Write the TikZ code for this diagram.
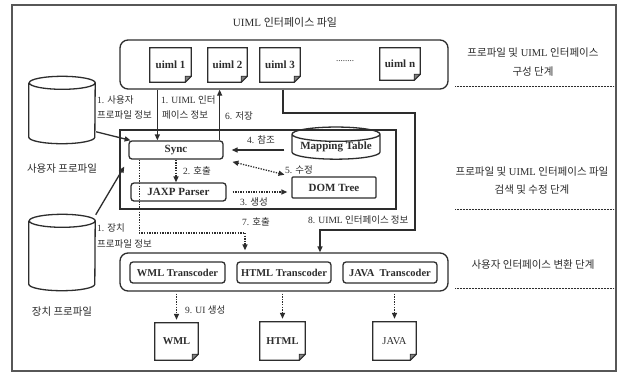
\documentclass[tikz,border=0pt]{standalone}
\usepackage{fontspec}
\setmainfont{Liberation Serif}
\newfontfamily\kr{Noto Sans CJK KR}
\usetikzlibrary{arrows.meta,shapes.geometric}
\definecolor{ink}{RGB}{45,45,45}
\newcommand\docbox[1]{%
  \draw[boxln] (#1.north west) -- (#1.north east) -- ([yshift=6pt]#1.south east) -- ([xshift=-6pt]#1.south east) -- (#1.south west) -- cycle;
  \filldraw[draw=ink, fill=ink!60, line width=0.6pt] ([yshift=6pt]#1.south east) -- ([xshift=-6pt]#1.south east) -- ([xshift=-6pt,yshift=6pt]#1.south east) -- cycle;}
\newcommand\bigcyl[1]{%
  \draw[boxln] ([yshift=-6.5pt]#1.north west) -- ([yshift=6.5pt]#1.south west)
    arc[start angle=180, end angle=360, x radius=33pt, y radius=6.5pt]
    -- ([yshift=-6.5pt]#1.north east)
    arc[start angle=0, end angle=360, x radius=33pt, y radius=6.5pt];}
\tikzset{
  boxln/.style={draw=ink, line width=1.3pt},
  arr/.style={draw=ink, line width=1.3pt, -{Triangle[length=6pt,width=5pt]}},
  darr/.style={arr, dash pattern=on 1.3pt off 1.3pt},
  dln/.style={draw=ink, line width=1.3pt, dash pattern=on 1.3pt off 1.3pt},
  sepln/.style={draw=ink, line width=0.9pt, dash pattern=on 0.7pt off 0.8pt},
  lab/.style={font=\fontsize{9.5}{10}\selectfont, text=ink, inner sep=0pt, anchor=west},
  steplab/.style={font=\fontsize{10.5}{11}\selectfont, text=ink, inner sep=0pt},
  docn/.style={minimum width=41pt, minimum height=34pt, inner sep=0pt, text=ink, font=\bfseries\fontsize{11}{12}\selectfont},
  modbox/.style={boxln, rounded corners=3pt, inner sep=0pt, text=ink, font=\bfseries\fontsize{11}{12}\selectfont},
  trans/.style={boxln, rounded corners=3pt, minimum width=95pt, minimum height=21pt, inner sep=0pt, text=ink, font=\bfseries\fontsize{10.5}{11}\selectfont},
  cyl/.style={cylinder, shape border rotate=90, draw=ink, line width=1.3pt, aspect=0.2, inner sep=0pt},
  cylarea/.style={draw=none, minimum width=66pt, inner sep=0pt},
}
\begin{document}
\begin{tikzpicture}[x=1pt,y=-1pt]
\useasboundingbox (0,0) rectangle (624,373);
\fill[white] (0,0) rectangle (624,373);
% outer frame
\draw[draw=ink!80, line width=1.2pt] (12,5) rectangle (616,371);
% title
\node[steplab, font=\fontsize{11}{12}\selectfont] (title) at (285,22) {UIML {\kr 인터페이스 파일}};
% top rounded box
\node[boxln, rounded corners=8pt, minimum width=328pt, minimum height=49pt, inner sep=0pt] (top) at (284,64.5) {};
\node[docn] (u1) at (170.5,65) {uiml 1};
\node[docn, minimum width=39pt] (u2) at (227.5,65) {uiml 2};
\node[docn, minimum width=40pt] (u3) at (280,65) {uiml 3};
\node[text=ink, inner sep=0pt, font=\fontsize{9}{10}\selectfont] (dots) at (345,61) {........};
\node[docn, minimum width=40pt, minimum height=32pt] (un) at (400,64) {uiml n};
\docbox{u1}\docbox{u2}\docbox{u3}\docbox{un}
% middle box
\node[boxln, minimum width=276pt, minimum height=79pt, inner sep=0pt] (mid) at (258,169.5) {};
\node[modbox, minimum width=94pt, minimum height=18pt] (sync) at (176,150) {Sync};
\node[modbox, minimum width=95pt, minimum height=18pt] (jaxp) at (178.5,192) {JAXP Parser};
\node[cyl, minimum width=88pt, minimum height=28pt, font=\bfseries\fontsize{11}{12}\selectfont, text=ink] (map) at (336,147) {Mapping Table};
\node[boxln, rounded corners=1pt, minimum width=84pt, minimum height=21pt, inner sep=0pt, text=ink, font=\bfseries\fontsize{11}{12}\selectfont] (dom) at (334,187.5) {DOM Tree};
% bottom box
\node[boxln, rounded corners=8pt, minimum width=328pt, minimum height=38pt, inner sep=0pt] (bot) at (284,272) {};
\node[trans] (wml) at (177.5,272.5) {WML Transcoder};
\node[trans, minimum width=94pt] (html) at (284,272.5) {HTML Transcoder};
\node[trans, minimum width=94pt] (java) at (390,272.5) {JAVA\ \ Transcoder};
% output docs
\node[docn, minimum width=43pt, minimum height=37pt, font=\bfseries\fontsize{10.5}{11}\selectfont] (wmld) at (176.5,341.5) {WML};
\node[docn, minimum width=45pt, minimum height=38pt, font=\bfseries\fontsize{10.5}{11}\selectfont] (htmld) at (282.5,341) {HTML};
\node[docn, minimum width=43pt, minimum height=38pt, font=\fontsize{10.5}{11}\selectfont] (javad) at (394.5,341) {JAVA};
\docbox{wmld}\docbox{htmld}\docbox{javad}
% cylinders
\node[cylarea, minimum height=67pt] (cu) at (62,110) {};
\node[cylarea, minimum height=76pt] (cd) at (62,252.5) {};
\bigcyl{cu}\bigcyl{cd}
\node[steplab] (cul) at (62,169) {\kr 사용자 프로파일};
\node[steplab] (cdl) at (62,312) {\kr 장치 프로파일};
% step labels
\node[steplab] (s1) at (533,53) {{\kr 프로파일 및} UIML {\kr 인터페이스}};
\node[steplab] (s1b) at (533,72) {\kr 구성 단계};
\node[steplab] (s2) at (532,172) {{\kr 프로파일 및} UIML {\kr 인터페이스 파일}};
\node[steplab] (s2b) at (532,190) {\kr 검색 및 수정 단계};
\node[steplab] (s3) at (533,265) {\kr 사용자 인터페이스 변환 단계};
\draw[sepln] (455,86) -- (614,86);
\draw[sepln] (455,209) -- (614,209);
\draw[sepln] (455,288) -- (614,288);
% coordinates
\coordinate (a1) at ([xshift=29pt]sync.north west);
\coordinate (a6) at ([xshift=-4pt]sync.north east);
\coordinate (a7) at ([xshift=11pt]sync.south west);
\coordinate (c7) at (245,233);
\coordinate (b1) at (283,113);
\coordinate (b2) at (415,230);
\coordinate (b3) at (320,230);
% connectors
\draw[arr, shorten <=1pt] (cu.-33) -- (sync.168);
\draw[arr] (top.south -| a1) -- (a1);
\draw[arr] (a6) -- (a6 |- top.south);
\draw[arr, shorten <=7pt, shorten >=8pt] (sync.east -| map.west) -- (sync.east);
\draw[darr, {Triangle[length=6pt,width=5pt]}-{Triangle[length=6pt,width=5pt]}, shorten <=9pt, shorten >=7pt] (sync.south east) -- (dom.north west);
\draw[darr] (sync.south) -- (sync.south |- jaxp.north);
\draw[darr, shorten <=6pt, shorten >=4pt] (jaxp.east) -- (jaxp.east -| dom.west);
\draw[dln] (a7) |- (c7);
\draw[darr, shorten >=2pt] (c7) -- (c7 |- bot.north);
\draw[arr] (top.south -| b1) -- (b1) -- (b2 |- b1) -- (b2) -- (b3) -- (b3 |- bot.north);
\draw[arr, shorten <=1pt, shorten >=8pt] (cd.48) -- (sync.south west);
\draw[darr, shorten <=2pt, shorten >=3pt] (wmld.north |- bot.south) -- (wmld.north);
\draw[darr, shorten <=2pt, shorten >=3pt] (htmld.north |- bot.south) -- (htmld.north);
\draw[darr, shorten <=2pt, shorten >=3pt] (javad.north |- bot.south) -- (javad.north);
% connector labels
\node[lab] (l1a) at (97,100) {1. {\kr 사용자}};
\node[lab] (l1b) at (97,115) {\kr 프로파일 정보};
\node[lab] (l2a) at (161,100) {1. UIML {\kr 인터}};
\node[lab] (l2b) at (162,115) {\kr 페이스 정보};
\node[lab] (l6) at (225,116) {6. {\kr 저장}};
\node[lab] (l4) at (247,140) {4. {\kr 참조}};
\node[lab] (l2) at (183,171) {2. {\kr 호출}};
\node[lab] (l5) at (285,170) {5. {\kr 수정}};
\node[lab] (l3) at (240,202) {3. {\kr 생성}};
\node[lab] (l7) at (242,222) {7. {\kr 호출}};
\node[lab] (l8) at (308,220) {8. UIML {\kr 인터페이스 정보}};
\node[lab] (l1c) at (97,228) {1. {\kr 장치}};
\node[lab] (l1d) at (97,244) {\kr 프로파일 정보};
\node[lab] (l9) at (185,310) {9. UI {\kr 생성}};
\end{tikzpicture}
\end{document}
